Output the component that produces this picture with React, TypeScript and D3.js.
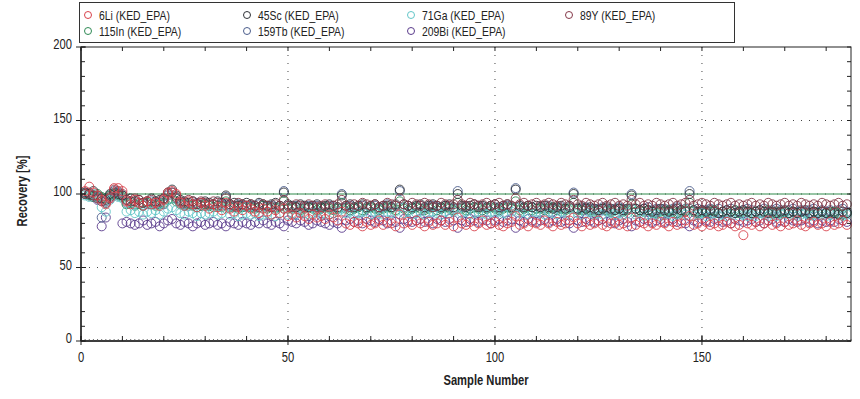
import * as d3 from 'd3';

const WIDTH = 860;
const HEIGHT = 399;

const seriesNames = ['6Li (KED_EPA)', '45Sc (KED_EPA)', '71Ga (KED_EPA)', '89Y (KED_EPA)', '115In (KED_EPA)', '159Tb (KED_EPA)', '209Bi (KED_EPA)'];
const seriesColors = ['#d8414b', '#2f3238', '#62c6c8', '#853848', '#2f8a55', '#4b5d8c', '#5a3b8c'];

const xTickValues = [0, 50, 100, 150];
const yTickValues = [0, 50, 100, 150, 200];

const li6 = [
  102, 105, 101, 99, 96, 93, 97, 104, 104, 102,
  95, 93, 96, 94, 92, 95, 93, 94, 92, 96,
  101, 102, 100, 94, 92, 95, 93, 91, 94, 92,
  90, 93, 91, 89, 94, 90, 88, 91, 89, 92,
  90, 88, 87, 90, 88, 86, 89, 87, 90, 85,
  86, 84, 87, 85, 83, 86, 84, 85, 83, 86,
  84, 82, 88, 80, 79, 81, 80, 78, 81, 79,
  80, 82, 79, 81, 80, 78, 86, 80, 81, 79,
  82, 80, 78, 81, 79, 80, 82, 79, 81, 78,
  84, 80, 79, 81, 78, 80, 82, 79, 80, 81,
  79, 78, 80, 81, 85, 79, 80, 78, 81, 80,
  79, 82, 80, 78, 81, 79, 80, 82, 84, 80,
  78, 81, 79, 80, 82, 79, 78, 80, 81, 79,
  80, 78, 84, 79, 81, 80, 78, 80, 79, 81,
  80, 78, 81, 79, 80, 82, 85, 79, 80, 78,
  81, 79, 80, 78, 79, 81, 80, 78, 79, 72,
  80, 79, 81, 78, 80, 82, 79, 80, 78, 81,
  79, 80, 82, 79, 78, 80, 81, 79, 80, 78,
  81, 79, 80, 82, 79,
];

const sc45 = [
  101, 100, 102, 99, 97, 96, 100, 101, 100, 99,
  96, 97, 95, 96, 94, 95, 97, 95, 96, 97,
  101, 103, 99, 96, 95, 94, 95, 93, 94, 95,
  94, 93, 95, 94, 99, 93, 94, 92, 93, 94,
  93, 92, 94, 93, 92, 93, 94, 92, 101, 93,
  92, 91, 93, 92, 91, 92, 93, 91, 92, 93,
  92, 91, 99, 92, 93, 91, 92, 93, 91, 92,
  93, 91, 92, 92, 91, 93, 103, 93, 92, 91,
  92, 93, 91, 92, 93, 92, 91, 92, 93, 91,
  100, 92, 91, 92, 93, 91, 92, 91, 92, 93,
  91, 92, 93, 91, 103, 92, 91, 92, 91, 92,
  91, 92, 91, 90, 91, 92, 90, 91, 100, 90,
  91, 90, 91, 90, 89, 90, 91, 90, 89, 90,
  89, 90, 99, 90, 89, 90, 89, 88, 89, 90,
  89, 88, 89, 90, 89, 88, 100, 89, 88, 89,
  88, 89, 88, 87, 88, 89, 88, 87, 88, 89,
  88, 87, 88, 89, 88, 87, 88, 87, 88, 89,
  87, 88, 87, 88, 89, 87, 88, 87, 88, 87,
  88, 87, 86, 88, 87,
];

const ga71 = [
  99, 98, 100, 97, 91, 88, 96, 99, 98, 97,
  88, 89, 87, 88, 86, 88, 87, 89, 86, 88,
  90, 91, 89, 87, 86, 88, 87, 85, 87, 86,
  87, 88, 86, 87, 90, 86, 87, 85, 86, 87,
  86, 87, 85, 86, 87, 86, 85, 87, 90, 86,
  87, 86, 88, 87, 86, 87, 88, 86, 87, 86,
  87, 88, 90, 87, 88, 86, 87, 88, 87, 86,
  88, 87, 86, 88, 87, 88, 91, 87, 88, 86,
  87, 88, 86, 87, 88, 87, 86, 88, 87, 88,
  90, 87, 88, 86, 87, 88, 87, 86, 88, 87,
  88, 87, 86, 88, 91, 87, 88, 86, 87, 88,
  87, 86, 88, 87, 86, 88, 87, 86, 90, 87,
  86, 87, 88, 86, 87, 86, 88, 87, 86, 87,
  86, 87, 90, 86, 87, 85, 86, 87, 86, 85,
  86, 87, 85, 86, 87, 86, 90, 85, 86, 87,
  85, 86, 87, 85, 86, 85, 86, 87, 85, 86,
  85, 86, 85, 87, 86, 85, 86, 85, 86, 87,
  85, 86, 85, 86, 87, 85, 86, 85, 86, 85,
  86, 85, 86, 85, 86,
];

const y89 = [
  100, 101, 99, 97, 95, 94, 98, 103, 102, 100,
  96, 95, 97, 96, 94, 95, 96, 94, 95, 97,
  100, 101, 98, 95, 94, 96, 95, 93, 95, 94,
  93, 95, 94, 92, 97, 93, 92, 94, 93, 92,
  93, 92, 91, 93, 92, 91, 93, 92, 96, 92,
  91, 93, 92, 91, 93, 92, 91, 92, 93, 91,
  92, 93, 96, 92, 91, 93, 92, 94, 93, 92,
  93, 91, 92, 94, 93, 92, 97, 93, 92, 94,
  93, 92, 94, 93, 91, 92, 94, 93, 92, 93,
  96, 93, 92, 94, 93, 92, 93, 94, 92, 93,
  94, 92, 93, 92, 97, 93, 94, 92, 93, 94,
  92, 93, 94, 93, 92, 94, 93, 92, 96, 93,
  92, 94, 93, 92, 93, 94, 92, 93, 94, 92,
  93, 92, 96, 93, 94, 92, 93, 92, 94, 93,
  92, 93, 94, 92, 93, 94, 96, 92, 93, 94,
  93, 92, 94, 93, 92, 93, 94, 92, 93, 92,
  93, 94, 92, 93, 92, 94, 93, 92, 93, 94,
  92, 93, 92, 94, 93, 92, 93, 92, 94, 93,
  92, 93, 94, 92, 93,
];

const in115 = [
  100, 99, 98, 100, 98, 97, 99, 100, 99, 98,
  93, 94, 92, 93, 92, 94, 93, 92, 93, 94,
  96, 97, 95, 93, 92, 93, 92, 91, 92, 93,
  92, 91, 92, 91, 95, 91, 92, 90, 91, 92,
  91, 90, 91, 92, 90, 91, 90, 91, 95, 90,
  90, 91, 89, 90, 91, 90, 89, 90, 91, 90,
  89, 90, 94, 90, 89, 90, 91, 89, 90, 91,
  90, 89, 90, 91, 90, 89, 95, 90, 89, 90,
  91, 90, 89, 90, 91, 89, 90, 91, 90, 89,
  94, 90, 89, 90, 91, 90, 89, 90, 91, 90,
  89, 90, 91, 90, 95, 89, 90, 91, 89, 90,
  90, 89, 90, 91, 89, 90, 89, 90, 94, 89,
  89, 90, 89, 88, 89, 90, 89, 88, 89, 90,
  88, 89, 93, 88, 89, 88, 89, 88, 87, 88,
  88, 89, 88, 87, 88, 89, 94, 88, 87, 88,
  87, 88, 89, 87, 88, 87, 88, 89, 87, 88,
  88, 87, 88, 87, 88, 89, 87, 88, 87, 88,
  87, 88, 87, 88, 87, 86, 88, 87, 88, 87,
  87, 88, 87, 86, 87,
];

const tb159 = [
  101, 100, 99, 98, 84, 95, 99, 102, 101, 99,
  94, 95, 93, 94, 92, 93, 95, 93, 94, 93,
  99, 101, 97, 94, 93, 92, 93, 94, 92, 93,
  92, 93, 92, 93, 98, 92, 91, 93, 92, 91,
  92, 91, 93, 92, 91, 92, 91, 92, 102, 92,
  91, 92, 90, 91, 92, 91, 92, 90, 91, 92,
  91, 90, 100, 91, 92, 90, 91, 92, 90, 91,
  92, 90, 91, 93, 91, 92, 102, 91, 92, 90,
  91, 92, 90, 91, 92, 91, 90, 92, 91, 90,
  102, 91, 92, 90, 91, 92, 91, 90, 92, 91,
  90, 91, 92, 90, 104, 91, 90, 92, 91, 90,
  91, 90, 92, 91, 90, 91, 90, 92, 101, 90,
  90, 91, 90, 89, 90, 91, 90, 89, 90, 91,
  90, 89, 100, 90, 89, 90, 91, 89, 90, 89,
  90, 89, 90, 91, 89, 90, 102, 89, 90, 89,
  89, 90, 89, 90, 88, 89, 90, 89, 88, 89,
  90, 89, 88, 89, 90, 88, 89, 90, 89, 88,
  89, 90, 88, 89, 88, 89, 90, 88, 89, 88,
  89, 88, 89, 90, 88,
];

const bi209 = [
  100, 99, 98, 96, 78, 84, 97, 100, 99, 80,
  81, 80, 79, 80, 82, 79, 80, 81, 78, 80,
  82, 83, 80, 79, 81, 80, 78, 80, 81, 79,
  80, 81, 79, 80, 78, 81, 80, 79, 81, 80,
  79, 81, 80, 82, 80, 79, 81, 80, 78, 82,
  81, 80, 82, 81, 79, 80, 82, 81, 80, 79,
  81, 80, 77, 82, 83, 81, 82, 80, 83, 82,
  81, 83, 82, 80, 82, 81, 77, 83, 82, 81,
  82, 83, 81, 82, 80, 83, 82, 81, 83, 82,
  77, 82, 81, 83, 82, 81, 83, 82, 80, 82,
  83, 81, 82, 83, 77, 82, 81, 83, 82, 81,
  82, 83, 81, 82, 83, 81, 82, 80, 77, 82,
  81, 83, 82, 81, 82, 83, 81, 82, 80, 82,
  83, 81, 78, 82, 81, 83, 82, 81, 82, 83,
  81, 82, 83, 81, 82, 80, 78, 82, 81, 83,
  82, 81, 83, 82, 81, 82, 80, 83, 82, 81,
  82, 83, 81, 82, 80, 82, 83, 81, 82, 81,
  83, 82, 81, 82, 83, 81, 82, 80, 82, 81,
  82, 81, 83, 82, 81,
];

const seriesValues = [li6, sc45, ga71, y89, in115, tb159, bi209];
// drawing order: heavy elements first, 6Li on top
const drawOrder = [6, 5, 4, 2, 1, 3, 0];

const margin = { left: 81, right: 851, top: 47, bottom: 341 };
const font = '"Liberation Sans", Arial, sans-serif';
const SQUEEZE = 0.8; // reference uses a condensed face

type NTProps = { x: number; y: number; anchor?: string; size?: number; bold?: boolean; rotate?: number; children: any };

// condensed text: scale horizontally around the anchor point
const NT = ({ x, y, anchor = 'start', size = 13, bold = false, rotate = 0, children }: NTProps) => (
  <text
    transform={`translate(${x},${y}) rotate(${rotate}) scale(${SQUEEZE},1)`}
    textAnchor={anchor}
    fontSize={size}
    fontWeight={bold ? 'bold' : 'normal'}
    fontFamily={font}
    fill="#222"
  >
    {children}
  </text>
);

export default function App() {
  const x = d3.scaleLinear().domain([0, 186]).range([margin.left, margin.right]);
  const y = d3.scaleLinear().domain([0, 200]).range([margin.bottom, margin.top]);

  const xMinor = d3.range(0, 187, 1);
  const xTen = d3.range(0, 187, 10);
  const yTen = d3.range(0, 201, 10);

  const legendCols = [88, 247, 411, 569];
  const legendRows = [15, 31];

  return (
    <svg width={WIDTH} height={HEIGHT} style={{ position: 'absolute', left: 0, top: 0, background: '#fff' }}>
      {/* legend */}
      <rect x={79.5} y={2.5} width={655} height={40} fill="#fff" stroke="#333" />
      {seriesNames.map((name, i) => {
        const cx = legendCols[i % 4];
        const cy = legendRows[Math.floor(i / 4)];
        return (
          <g key={name}>
            <circle cx={cx} cy={cy} r={3.5} fill="none" stroke={seriesColors[i]} strokeWidth={1} />
            <NT x={cx + 11} y={cy + 4.5} size={13}>
              {name}
            </NT>
          </g>
        );
      })}

      {/* dotted grid */}
      {[50, 100, 150].map((v) => (
        <line key={'gy' + v} x1={margin.left} x2={margin.right} y1={y(v)} y2={y(v)} stroke="#444" strokeDasharray="1,7" />
      ))}
      {xTickValues.filter((v) => v > 0).map((v) => (
        <line key={'gx' + v} x1={x(v)} x2={x(v)} y1={margin.top} y2={margin.bottom} stroke="#444" strokeDasharray="1,7" />
      ))}

      {/* reference line */}
      <line x1={margin.left} x2={margin.right} y1={y(100)} y2={y(100)} stroke="#2e8a4a" strokeWidth={1} />

      {/* data */}
      {drawOrder.map((si) => (
        <g key={seriesNames[si]}>
          {seriesValues[si].map((v, i) => (
            <circle key={i} cx={x(i + 1)} cy={y(v)} r={4.5} fill="none" stroke={seriesColors[si]} strokeWidth={1} strokeOpacity={0.9} />
          ))}
        </g>
      ))}

      {/* frame */}
      <rect x={margin.left} y={margin.top} width={margin.right - margin.left} height={margin.bottom - margin.top} fill="none" stroke="#222" strokeWidth={1} />
      <line x1={margin.left} x2={margin.right} y1={margin.bottom} y2={margin.bottom} stroke="#222" strokeWidth={1.6} />
      <line x1={margin.left} x2={margin.left} y1={margin.top} y2={margin.bottom} stroke="#222" strokeWidth={1.4} />

      {/* bottom ticks */}
      {xMinor.map((v) => (
        <line key={'xm' + v} x1={x(v)} x2={x(v)} y1={margin.bottom} y2={margin.bottom - 2} stroke="#444" strokeWidth={0.8} />
      ))}
      {xTen.map((v) => (
        <line key={'xt' + v} x1={x(v)} x2={x(v)} y1={margin.bottom} y2={margin.bottom - 5} stroke="#222" />
      ))}
      {xTickValues.map((v) => (
        <line key={'xM' + v} x1={x(v)} x2={x(v)} y1={margin.bottom + 4} y2={margin.bottom - 5} stroke="#222" />
      ))}
      {/* top ticks */}
      {xTen.map((v) => (
        <line key={'xtt' + v} x1={x(v)} x2={x(v)} y1={margin.top} y2={margin.top + 4} stroke="#222" />
      ))}
      {/* left / right ticks */}
      {yTen.map((v) => (
        <g key={'yt' + v}>
          <line x1={margin.left} x2={margin.left + 4} y1={y(v)} y2={y(v)} stroke="#222" />
          <line x1={margin.right} x2={margin.right - 4} y1={y(v)} y2={y(v)} stroke="#222" />
        </g>
      ))}
      {yTickValues.map((v) => (
        <line key={'yM' + v} x1={margin.left - 5} x2={margin.left + 5} y1={y(v)} y2={y(v)} stroke="#222" />
      ))}

      {/* tick labels */}
      {xTickValues.map((v) => (
        <NT key={'xl' + v} x={x(v)} y={362} anchor="middle" size={14}>
          {v}
        </NT>
      ))}
      {yTickValues.map((v) => (
        <NT key={'yl' + v} x={72} y={y(v) + 2} anchor="end" size={14}>
          {v}
        </NT>
      ))}

      {/* axis titles */}
      <NT x={486} y={385} anchor="middle" size={14} bold>
        Sample Number
      </NT>
      <text
        transform={`translate(27,191) rotate(-90) scale(${SQUEEZE},1)`}
        textAnchor="middle"
        fontSize={14}
        fontWeight="bold"
        fontFamily={font}
        fill="#222"
      >
        Recovery [%]
      </text>
    </svg>
  );
}
